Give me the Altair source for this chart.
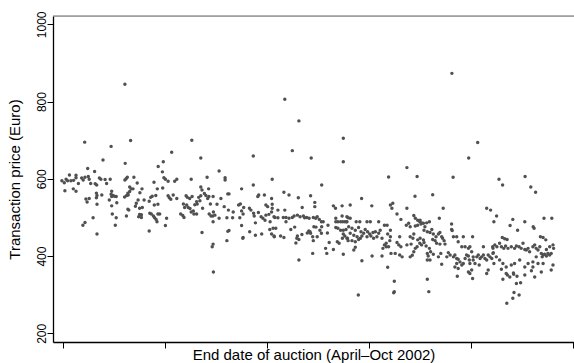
import altair as alt
import pandas as pd

# (day index, transaction price in Euro)
seg_a = [(20.8,845),(7.4,695),(16.2,684),(22.7,699),(13.5,649),(20.9,640),(8.4,627),(10.7,619),(2.3,610),(4.5,609),
         (4.5,603),(6.4,602),(7.5,604),(8.6,606),(8.9,599),(6.9,597),(-0.2,595),(0.6,590),(1.2,599),(1.7,595),
         (2.8,595),(3.7,596),(5.3,588),(12.3,602),(12.8,599),(14.2,598),(15.9,599),(9.4,588),(11.4,584),(10.9,587),
         (14.7,588),(21.2,600),(21.6,604),(20.8,597),(22.4,579),(0.8,569),(3.6,574),(4.5,568),(16.4,568),(7.8,548),
         (8.9,549),(8.2,540),(11.3,563),(11.5,557),(11.3,551),(13.1,558),(16.2,560),(16.8,557),(17.3,555),(16.4,554),
         (17.9,554),(20.7,553),(21.4,557),(21.9,558),(15.6,545),(11.5,534),(16.4,530),(18.1,538),(22.1,519),(16.6,509),
         (17.9,499),(10.2,499),(7.5,487),(6.8,480),(21.3,504),(17.6,480),(11.5,457)]

seg_b = [(43.1,700),(36.4,669),(46.1,654),(33.6,644),(31.9,632),(33.3,618),(33.8,603),(34.3,599),(35.2,594),(37.4,594),
         (38.1,599),(42.9,599),(46.1,579),(23.8,604),(24.9,589),(22.9,574),(23.5,574),(22.4,567),(21.8,563),(26.5,574),
         (30.5,591),(31.6,574),(33.4,576),(25.8,564),(27.2,545),(25.2,545),(24.6,537),(24.3,529),(25.7,524),(26.6,526),
         (21.8,521),(28.9,542),(29.4,552),(29.9,555),(30.6,532),(31.1,557),(31.8,534),(35.2,556),(35.6,551),(36.1,547),
         (36.9,558),(38.1,549),(41.2,556),(41.6,552),(42.4,549),(43.2,554),(45.4,552),(46.1,556),(45.8,543),(44.7,541),
         (44.9,535),(44.1,533),(40.3,535),(40.7,526),(41.4,532),(41.9,526),(42.5,523),(43.6,517),(42.9,514),(44.7,509),
         (43.8,509),(40.1,505),(40.5,500),(39.4,509),(25.7,508),(25.4,502),(26.3,500),(26.3,507),(29.1,511),(29.6,509),
         (30.3,504),(30.7,499),(31.2,495),(31.5,489),(31.8,509),(32.4,509),(34.7,498),(34.3,479),(28.9,465),(46.5,461),
         (46.7,524)]

seg_c = [(63.6,659),(52.2,620),(48.2,604),(54.2,603),(54.2,597),(69.9,599),(63.6,584),(46.5,571),(47.3,562),(47.8,557),
         (48.7,574),(48.4,549),(50.2,554),(51.5,534),(49.3,535),(50.3,514),(50.8,506),(50.1,504),(48.9,509),(49.5,504),
         (50.2,489),(52.2,498),(52.8,549),(53.9,528),(55.1,561),(55.5,561),(55.3,519),(54.8,499),(56.7,499),(56.9,514),
         (59.7,574),(58.7,532),(59.3,535),(60.4,526),(59.7,517),(60.2,509),(59.1,499),(59.7,479),(60.2,448),(62.3,524),
         (62.8,519),(63.7,511),(63.9,504),(64.3,486),(62.4,463),(64.3,454),(66.4,457),(65.1,554),(65.4,558),(67.3,558),
         (65.3,513),(66.2,502),(66.8,498),(67.5,493),(67.8,532),(68.4,528),(67.8,506),(68.8,508),(69.7,514),(69.9,524),
         (69.9,534),(69.7,549),(70.2,472),(69.7,457),(70.6,450),(69.1,469),(69.2,489),(70.8,500),(55.1,464),(55.5,466),
         (54.8,440),(50.2,431),(49.9,424),(50.3,359),(60.1,446),(48.8,554)]

seg_d = [(74.1,806),(78.8,750),(93.6,705),(76.6,673),(82.9,654),(93.6,644),(86.4,584),(73.8,565),(75.5,558),(78.6,551),
         (82.7,556),(84.1,539),(84.1,528),(90.3,530),(91.0,524),(93.2,530),(71.8,519),(74.1,519),
         (70.5,502),(71.8,499),(73.6,500),(74.5,500),(75.5,498),(76.6,500),(77.2,504),(78.3,506),(79.2,502),(79.9,526),
         (80.3,504),(80.7,499),(81.4,500),(82.2,498),(83.6,500),(84.4,498),(84.9,502),(85.6,495),(86.3,489),(86.9,489),
         (74.5,489),(71.1,472),(72.7,452),(73.8,448),(70.5,452),(76.1,469),(77.4,475),(78.1,446),(78.3,452),(78.8,443),
         (77.8,434),(79.8,456),(81.6,460),(82.1,465),(82.5,463),(82.7,459),(83.4,450),(83.6,440),(83.8,476),(84.5,475),
         (84.9,450),(83.4,407),(78.8,390),(86.3,459),(88.3,460),(88.5,480),(88.9,435),(87.7,420),(90.3,417),(88.1,407),
         (85.8,467),(86.4,476),
         (91.1,498),(91.1,489),(91.8,489),(92.7,489),(93.4,489),(94.1,489),(94.7,489),(95.2,499),(93.2,504),(91.1,474),
         (91.8,472),(92.7,467),(93.6,467),(94.5,469),(93.6,457),(94.1,452),(93.3,446),(95.0,446),(91.6,437),(92.2,433),
         (93.6,405),(95.2,440)]

seg_e = [(114.8,629),(108.7,605),(118.2,606),(117.5,555),(99.7,549),(95.9,532),(103.1,530),(109.3,532),(110.1,537),(109.8,524),
         (114.8,524),(111.5,509),(112.8,495),(117.1,505),(117.6,498),(118.4,493),(119.1,489),(119.5,483),(115.4,485),(114.6,480),
         (115.9,476),(118.4,480),(117.6,478),(94.8,502),(95.9,498),(94.8,489),(97.9,489),(99.1,489),(101.5,489),(102.6,489),
         (105.4,489),(107.3,480),(108.2,480),(95.4,476),(96.5,472),(97.6,467),(98.7,474),(99.5,463),(100.4,459),(100.9,469),
         (101.7,463),(102.4,457),(102.8,452),(103.5,461),(104.3,463),(104.8,450),(105.4,459),(105.9,467),(106.5,446),(95.9,459),
         (97.1,454),(98.2,450),(99.3,446),(101.5,450),(103.7,446),(99.8,452),(94.8,446),(96.5,440),(97.6,437),(98.7,443),
         (109.3,467),(108.4,457),(109.1,440),(107.9,433),(107.3,429),(106.8,420),(107.9,424),(108.7,424),(109.3,450),(111.5,435),
         (112.4,450),(112.1,429),(112.8,424),(110.9,407),(109.5,407),(112.4,403),(113.2,398),(115.9,450),(116.8,446),(117.1,457),
         (116.2,431),(114.8,429),(118.4,442),(119.1,433),(117.6,420),(117.1,411),(115.9,398),(116.6,402),(118.2,424),
         (97.1,416),(97.6,423),(103.2,400),(106.5,400),(99.8,388),(108.4,371),(110.6,335),(110.6,308),(110.4,305),(98.6,299)]

seg_f = [(138.4,694),(135.4,654),(130.2,604),(123.4,559),(126.9,524),(141.4,524),(142.7,519),(143.8,489),(125.6,498),(129.7,483),
         (129.7,469),(129.9,466),(119.2,493),(119.7,486),(120.3,485),(120.8,476),(121.4,486),(122.3,489),(120.5,467),(121.6,463),
         (122.5,461),(123.1,469),(123.6,457),(124.5,450),(125.3,457),(125.8,461),(126.4,450),(126.7,446),(127.2,440),(127.5,431),
         (125.8,431),(124.2,440),(124.7,433),(123.4,443),(119.2,446),(120.3,442),(119.7,429),(121.2,426),(122.3,420),(122.7,411),
         (121.6,407),(121.9,400),(122.5,390),(121.6,390),(120.5,435),(123.6,405),(126.1,407),(126.4,379),(125.3,398),(128.1,398),
         (128.6,409),(129.2,403),(130.3,398),(130.8,403),(131.4,394),(131.9,392),(132.5,385),(131.4,381),(130.8,372),(131.9,368),
         (133.1,377),(133.6,381),(134.2,394),(134.7,403),(135.3,400),(135.8,424),(136.4,411),(136.9,398),(136.7,450),(133.6,450),
         (131.4,450),(130.3,450),(131.9,437),(133.1,424),(134.2,424),(135.3,420),(135.6,390),(135.8,381),(136.4,364),(135.8,355),
         (136.7,342),(135.3,359),(136.9,390),(138.1,398),(138.6,403),(139.2,394),(139.7,398),(140.3,403),(140.8,394),(141.4,390),
         (141.9,403),(142.5,398),(143.1,394),(143.4,424),(143.6,409),(143.8,381),(141.9,364),(141.4,355),(140.3,424),(138.9,377),
         (137.5,381),(131.6,348),(121.6,340),(122.1,308)]

seg_g = [(129.8,873),(145.5,599),(146.7,584),(154.2,606),(156.1,579),(157.7,565),(144.7,504),(150.1,495),(154.1,489),(151.7,467),
         (149.2,479),(157.2,472),(156.9,476),(160.5,498),(163.1,498),
         (148.1,278),(150.1,291),(152.2,299),(150.5,306),(151.3,329),(152.7,331),(148.3,351),(150.3,356),
         (146.6,448),(147.4,445),(148.2,443),(145.7,433),(144.8,424),(143.5,420),(144.1,429),(146.3,424),(147.1,420),(147.7,426),
         (148.5,420),(149.6,424),(150.7,420),(151.3,426),(152.2,424),(152.9,420),(153.5,433),(154.1,417),(154.6,416),(155.2,420),
         (155.7,411),(156.8,424),(157.4,429),(157.9,420),(158.5,416),(159.1,424),(159.3,450),(160.2,448),(161.1,442),(159.6,407),
         (160.2,403),(160.7,405),(161.3,400),(161.8,407),(162.4,403),(162.9,407),(163.5,429),(163.7,420),(162.4,424),(161.3,417),
         (143.5,407),(144.6,398),(145.7,390),(146.8,381),(147.9,372),(149.6,377),(150.7,381),(152.4,390),(154.1,372),(155.2,381),
         (156.8,385),(158.5,381),(159.9,398),(163.5,377),(162.9,364),(146.3,366),(147.9,355),(149.1,346),(150.4,353),(151.5,348),
         (154.1,351),(156.3,362),(157.4,346),(159.6,359),(146.8,340),(156.8,372),(157.9,398),(160.2,381)]

x_ticks = [0, 34, 68, 102, 136, 170]
y_ticks = [200, 400, 600, 800, 1000]
x_title = "End date of auction (April–Oct 2002)"
y_title = "Transaction price (Euro)"

rows = seg_a + seg_b + seg_c + seg_d + seg_e + seg_f + seg_g
df = pd.DataFrame(rows, columns=["day", "price"])

W, H = 521, 326
FONT = "Liberation Sans"

points = alt.Chart(df).mark_circle(size=12, color="#505050", opacity=1).encode(
    x=alt.X("day:Q",
            scale=alt.Scale(domain=[-3.1667, 170.5], nice=False, zero=False),
            axis=alt.Axis(values=x_ticks, labels=False, ticks=True, tickSize=6,
                          tickColor="black", domainColor="black", domainWidth=1.3,
                          tickWidth=1, grid=False, title=x_title,
                          titleFont=FONT, titleFontSize=15, titleFontWeight="normal",
                          titleColor="black", titleY=12, titleBaseline="middle")),
    y=alt.Y("price:Q",
            scale=alt.Scale(domain=[177.6, 1021.5], nice=False, zero=False),
            axis=alt.Axis(values=y_ticks, format="d", tickSize=6, tickColor="black",
                          domainColor="black", domainWidth=1.3, tickWidth=1, grid=False,
                          labelAngle=270, labelAlign="center", labelBaseline="middle",
                          labelPadding=6, labelFont=FONT, labelFontSize=12,
                          labelColor="black", title=y_title, titleFont=FONT,
                          titleFontSize=15, titleFontWeight="normal", titleColor="black",
                          titleAngle=270, titleX=-39, titleY=H / 2,
                          titleBaseline="middle", titleAlign="center")),
)

top_line = alt.Chart(pd.DataFrame({"k": [0]})).mark_rule(color="#666666", strokeWidth=1).encode(
    x=alt.value(0), x2=alt.value(W), y=alt.value(0)
)

chart = alt.layer(top_line, points).properties(
    width=W, height=H,
    autosize=alt.AutoSizeParams(type="none"),
    padding={"left": 53, "top": 16, "right": 0, "bottom": 21},
).configure_view(stroke=None).configure(background="white")

chart.save("out.html", embed_options={"renderer": "svg", "actions": False})
